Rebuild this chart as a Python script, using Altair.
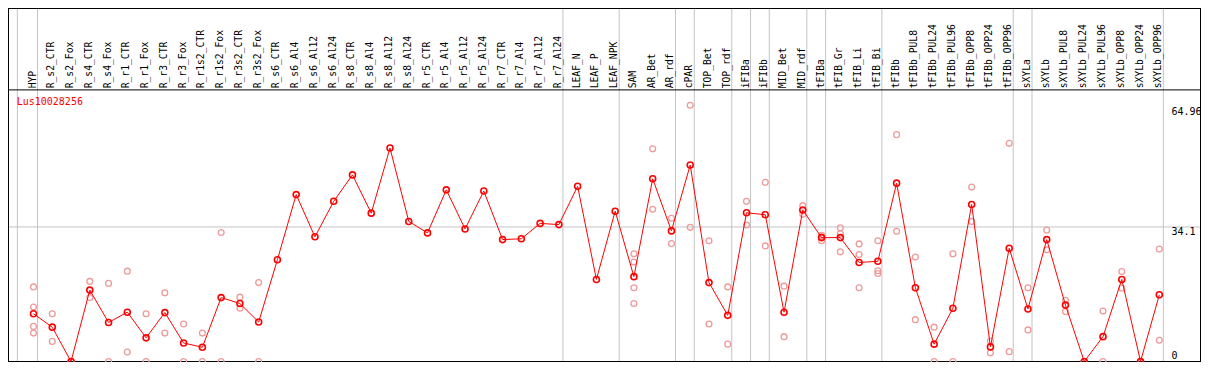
import altair as alt
import pandas as pd

# ---------------- data ----------------
gene = "Lus10028256"

categories = [
    "HYP", "R_s2_CTR", "R_s2_Fox", "R_s4_CTR", "R_s4_Fox", "R_r1_CTR", "R_r1_Fox",
    "R_r3_CTR", "R_r3_Fox", "R_r1s2_CTR", "R_r1s2_Fox", "R_r3s2_CTR", "R_r3s2_Fox",
    "R_s6_CTR", "R_s6_Al4", "R_s6_Al12", "R_s6_Al24", "R_s8_CTR", "R_s8_Al4",
    "R_s8_Al12", "R_s8_Al24", "R_r5_CTR", "R_r5_Al4", "R_r5_Al12", "R_r5_Al24",
    "R_r7_CTR", "R_r7_Al4", "R_r7_Al12", "R_r7_Al24", "LEAF_N", "LEAF_P", "LEAF_NPK",
    "SAM", "AR_Bet", "AR_rdf", "cPAR", "TOP_Bet", "TOP_rdf", "iFIBa", "iFIBb",
    "MID_Bet", "MID_rdf", "tFIBa", "tFIB_Gr", "tFIB_Li", "tFIB_Bi", "tFIBb",
    "tFIBb_PUL8", "tFIBb_PUL24", "tFIBb_PUL96", "tFIBb_OPP8", "tFIBb_OPP24",
    "tFIBb_OPP96", "sXYLa", "sXYLb", "sXYLb_PUL8", "sXYLb_PUL24", "sXYLb_PUL96",
    "sXYLb_OPP8", "sXYLb_OPP24", "sXYLb_OPP96",
]

means = [
    12.1, 8.7, 0.0, 18.1, 9.9, 12.5, 6.0, 12.4, 4.7, 3.6, 16.2, 14.7, 10.0,
    25.8, 42.3, 31.6, 40.6, 47.3, 37.6, 54.1, 35.5, 32.6, 43.5, 33.6, 43.2,
    30.9, 31.1, 35.0, 34.7, 44.4, 20.8, 38.1,
    21.5, 46.3, 33.1, 49.8, 20.0, 11.7, 37.7, 37.2, 12.5, 38.4,
    31.4, 31.4, 25.1, 25.4, 45.2, 18.7, 4.4, 13.5, 39.8, 3.7, 28.7,
    13.3, 30.9, 14.3, 0.0, 6.3, 20.8, 0.0, 16.9,
]

replicates = [
    [18.9, 13.8, 8.9, 7.2], [12.1, 5.1], [0.0, 0.0], [20.3, 16.2], [19.8, 0.0],
    [22.9, 2.4], [12.1, 0.0], [17.4, 7.2], [9.5, 0.0], [7.2, 0.0], [32.7, 0.0],
    [16.3, 13.5], [20.0, 0.0],
    [], [], [], [], [], [], [], [], [], [], [], [], [], [], [], [], [], [], [],
    [27.3, 25.2, 18.7, 14.7], [53.9, 38.6], [36.3, 29.9], [64.96, 34.0],
    [30.6, 9.5], [18.9, 4.4], [40.6, 34.6], [45.4, 29.3], [19.1, 6.3], [39.5, 37.3],
    [32.0, 30.6, 31.6], [33.9, 32.4, 27.8], [29.8, 27.1, 18.7], [30.6, 23.0, 22.3],
    [57.5, 33.0], [26.5, 10.6], [8.7, 0.0], [27.3, 0.0], [44.2, 35.5], [5.2, 2.2],
    [55.3, 2.5], [18.7, 8.0], [33.3, 28.3], [15.5, 12.7], [0.0, 0.0], [12.8, 0.0],
    [22.8, 18.6], [0.0, 0.0], [28.5, 5.4],
]

separators_after = [
    "HYP", "R_r7_Al24", "LEAF_NPK", "AR_rdf", "cPAR", "TOP_rdf", "iFIBa", "iFIBb",
    "MID_rdf", "tFIBa", "tFIB_Bi", "tFIBb_OPP96", "sXYLa", "sXYLb_OPP96",
]

tick_values = [64.96, 34.1, 0.0]
grid_values = [34.1]
y_max = 64.96

# ---------------- layout constants ----------------
W, H = 1193, 354
HEADER_Y = 81.9
FONT = "DejaVu Sans Mono"
RED = "#ff0000"
PINK = "#ee9a9a"
GREY = "#c4c4c4"

xs = alt.Scale(domain=[0, 60], range=[25.5, 1151.3], nice=False, zero=False)
ys = alt.Scale(domain=[0, y_max], range=[353.5, 97.2], nice=False, zero=False)

# ---------------- tables ----------------
df_mean = pd.DataFrame({"idx": list(range(len(categories))), "cat": categories, "v": means})
rep_rows = []
for i, reps in enumerate(replicates):
    for r in reps:
        rep_rows.append({"idx": i, "v": r})
df_rep = pd.DataFrame(rep_rows)

sep_pos = [-0.86] + [categories.index(c) + 0.215 for c in separators_after]
df_sep = pd.DataFrame({"pos": sep_pos})
df_grid = pd.DataFrame({"v": grid_values})

one = alt.Data(values=[{}])

# ---------------- layers ----------------
sep = alt.Chart(df_sep).mark_rule(color=GREY, strokeWidth=1).encode(
    x=alt.X("pos:Q", scale=xs, axis=None), y=alt.value(0), y2=alt.value(H)
)
hgrid = alt.Chart(df_grid).mark_rule(color=GREY, strokeWidth=1).encode(
    y=alt.Y("v:Q", scale=ys, axis=None), x=alt.value(0), x2=alt.value(W)
)
header_line = alt.Chart(one).mark_rule(color="black", strokeWidth=1).encode(
    y=alt.value(HEADER_Y), x=alt.value(0), x2=alt.value(W)
)
frame = [
    alt.Chart(one).mark_rule(color="black", strokeWidth=1).encode(
        x=alt.value(0.5), y=alt.value(0), y2=alt.value(H)),
    alt.Chart(one).mark_rule(color="black", strokeWidth=1).encode(
        x=alt.value(W - 0.5), y=alt.value(0), y2=alt.value(H)),
    alt.Chart(one).mark_rule(color="black", strokeWidth=1).encode(
        y=alt.value(0.5), x=alt.value(0), x2=alt.value(W)),
    alt.Chart(one).mark_rule(color="black", strokeWidth=1).encode(
        y=alt.value(H - 0.5), x=alt.value(0), x2=alt.value(W)),
]

labels = alt.Chart(df_mean).mark_text(
    angle=270, align="left", baseline="middle", font=FONT, fontSize=9.7,
    color="black", dy=-1
).encode(
    x=alt.X("idx:Q", scale=xs, axis=None), y=alt.value(80.3), text="cat:N"
)

reps_layer = alt.Chart(df_rep).mark_point(
    shape="circle", size=34, filled=False, color=PINK, strokeWidth=1.3, opacity=1
).encode(
    x=alt.X("idx:Q", scale=xs, axis=None), y=alt.Y("v:Q", scale=ys, axis=None)
)

line = alt.Chart(df_mean).mark_line(color=RED, strokeWidth=1).encode(
    x=alt.X("idx:Q", scale=xs, axis=None), y=alt.Y("v:Q", scale=ys, axis=None)
)
pts = alt.Chart(df_mean).mark_point(
    shape="circle", size=36, filled=False, color=RED, strokeWidth=1.6, opacity=1
).encode(
    x=alt.X("idx:Q", scale=xs, axis=None), y=alt.Y("v:Q", scale=ys, axis=None)
)

title = alt.Chart(one).mark_text(
    align="left", baseline="alphabetic", font=FONT, fontSize=10, color=RED
).encode(x=alt.value(8.7), y=alt.value(97), text=alt.value(gene))

tick_dy = {64.96: 9.6, 34.1: 7.6, 0.0: -2.7}
tick_layers = []
for t in tick_values:
    tick_layers.append(
        alt.Chart(pd.DataFrame({"v": [t], "lab": [f"{t:g}"]})).mark_text(
            align="left", baseline="alphabetic", font=FONT, fontSize=10,
            color="black", dy=tick_dy[t]
        ).encode(
            x=alt.value(1163.4), y=alt.Y("v:Q", scale=ys, axis=None), text="lab:N"
        )
    )

chart = alt.layer(
    sep, hgrid, header_line, *frame, labels, reps_layer, line, pts, title, *tick_layers
).properties(
    width=W, height=H, autosize=alt.AutoSizeParams(type="none"), padding=0,
    background="white"
).configure_view(strokeOpacity=0)

chart.save("out.html", embed_options={"renderer": "svg", "actions": False})
